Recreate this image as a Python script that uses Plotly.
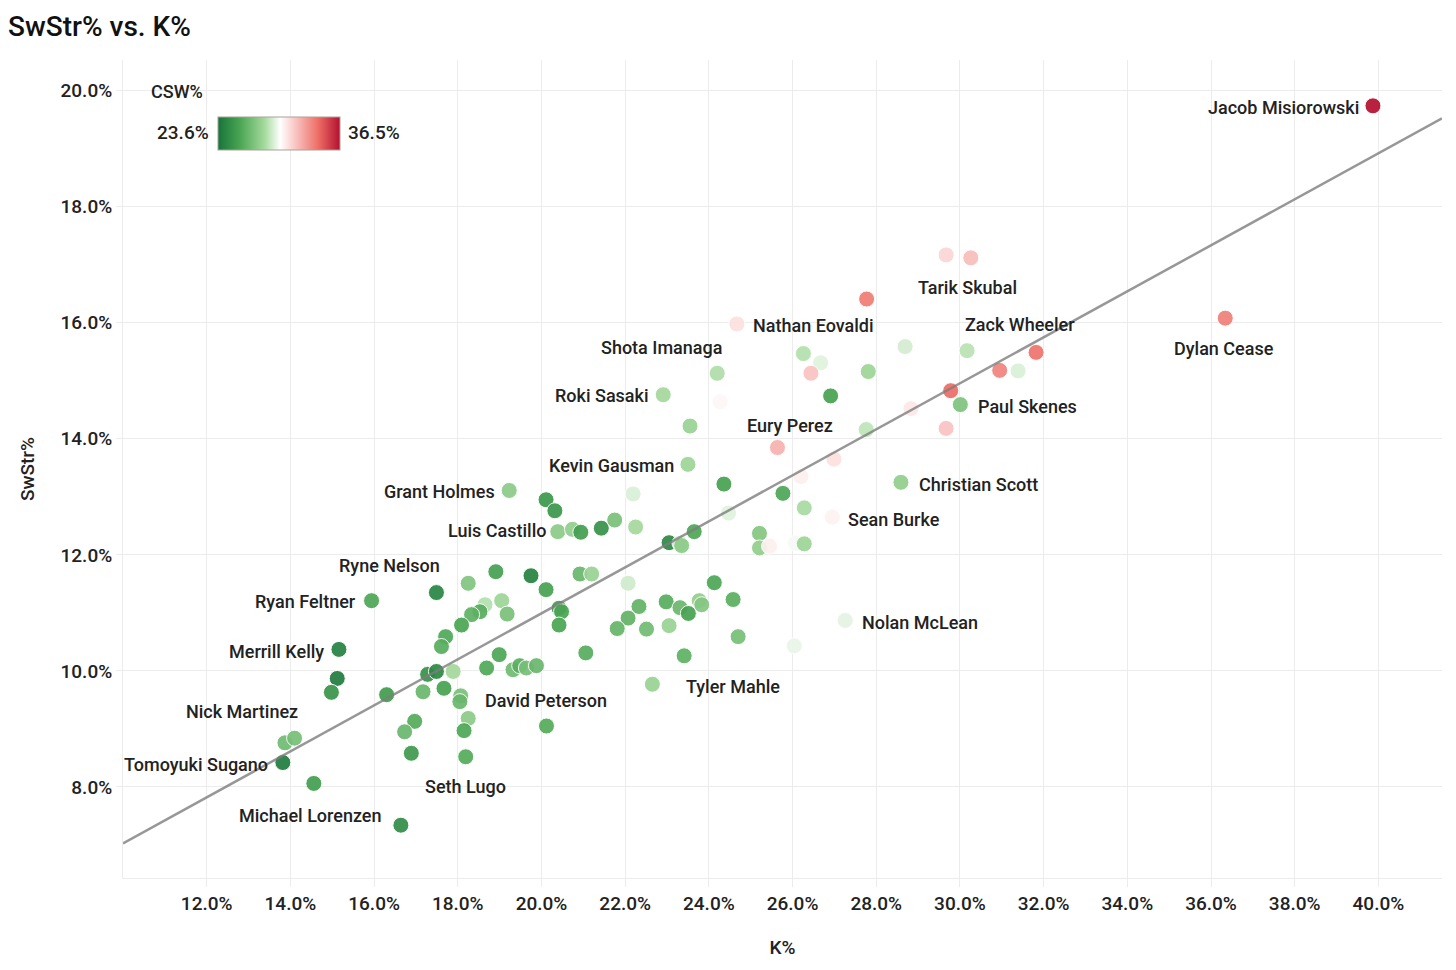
import numpy as np
import plotly.graph_objects as go

# ---------------- data ----------------
k_pct = [39.87, 36.34, 29.67, 30.26, 27.77, 24.67, 26.26, 26.67, 26.44, 27.81,
         28.69, 30.17, 31.82, 30.95, 31.39, 29.78, 30.01, 28.83, 29.67, 27.76,
         24.20, 24.27, 26.91, 22.91, 23.55, 25.64, 26.99, 26.20, 23.50, 24.36,
         22.19, 25.77, 28.59, 26.28, 24.47, 26.95, 19.23, 20.11, 20.32, 20.39,
         20.74, 20.94, 21.43, 21.75, 22.25, 23.05, 23.31, 23.35, 23.65, 25.21,
         25.21, 25.45, 26.07, 26.28, 24.13, 24.58, 22.33, 22.98, 23.31, 23.51,
         23.77, 23.83, 22.07, 22.07, 21.81, 22.51, 23.05, 24.70, 23.41, 22.65,
         27.26, 26.04, 21.06, 18.91, 19.75, 18.25, 17.49, 20.11, 20.92, 21.20,
         18.65, 19.05, 19.18, 18.53, 18.33, 20.42, 20.48, 18.09, 20.42, 17.71,
         17.61, 18.99, 18.69, 19.32, 19.48, 19.64, 19.88, 17.28, 17.49, 17.89,
         16.30, 17.17, 17.67, 18.07, 18.05, 20.12, 18.25, 16.97, 16.73, 18.15,
         16.89, 18.19, 16.64, 15.94, 15.16, 15.12, 14.98, 13.87, 14.10, 13.82,
         14.56]

swstr_pct = [19.74, 16.08, 17.17, 17.12, 16.41, 15.98, 15.47, 15.31, 15.13, 15.16,
             15.59, 15.52, 15.49, 15.18, 15.17, 14.83, 14.59, 14.52, 14.18, 14.16,
             15.13, 14.64, 14.74, 14.76, 14.22, 13.85, 13.65, 13.35, 13.56, 13.22,
             13.05, 13.06, 13.25, 12.81, 12.72, 12.65, 13.11, 12.95, 12.76, 12.40,
             12.44, 12.39, 12.46, 12.60, 12.48, 12.21, 12.20, 12.16, 12.40, 12.37,
             12.12, 12.15, 12.20, 12.19, 11.52, 11.23, 11.11, 11.19, 11.09, 10.99,
             11.21, 11.14, 11.51, 10.91, 10.73, 10.72, 10.78, 10.59, 10.26, 9.77,
             10.87, 10.43, 10.31, 11.71, 11.64, 11.51, 11.35, 11.40, 11.67, 11.67,
             11.14, 11.21, 10.98, 11.02, 10.97, 11.08, 11.02, 10.79, 10.79, 10.59,
             10.42, 10.28, 10.05, 10.02, 10.09, 10.05, 10.09, 9.94, 9.99, 9.99,
             9.59, 9.64, 9.70, 9.57, 9.47, 9.05, 9.18, 9.13, 8.95, 8.97,
             8.58, 8.52, 7.34, 11.21, 10.37, 9.87, 9.63, 8.76, 8.84, 8.42,
             8.06]

csw_pct = [36.5, 33.7, 31.3, 32.0, 33.8, 31.0, 28.8, 29.6, 31.8, 28.3,
           29.4, 28.9, 34.0, 33.6, 29.5, 34.2, 27.4, 30.8, 31.8, 29.0,
           28.7, 30.4, 25.8, 28.5, 28.2, 32.3, 31.0, 30.6, 28.3, 25.8,
           29.5, 26.0, 28.0, 28.6, 29.6, 30.5, 27.8, 25.3, 25.2, 27.8,
           28.0, 25.6, 25.0, 27.3, 28.5, 24.6, 29.2, 27.8, 26.0, 27.6,
           28.0, 30.6, 30.0, 28.3, 26.0, 26.4, 26.6, 26.3, 26.8, 25.8,
           28.0, 27.6, 29.3, 26.6, 26.7, 27.0, 28.2, 27.2, 26.5, 28.2,
           29.7, 29.8, 26.3, 25.7, 24.3, 27.5, 24.4, 25.8, 26.8, 28.2,
           28.8, 28.3, 27.3, 26.3, 26.5, 25.5, 25.9, 25.9, 25.9, 26.1,
           26.3, 26.0, 26.1, 27.0, 26.4, 27.2, 26.8, 25.0, 24.6, 28.5,
           25.5, 26.8, 25.8, 27.3, 26.8, 26.2, 27.8, 26.2, 26.8, 26.0,
           25.4, 26.2, 24.8, 26.0, 24.3, 24.0, 25.1, 27.0, 27.2, 24.0,
           25.6]

player = ["Jacob Misiorowski", "Dylan Cease", "", "Tarik Skubal", "", "Nathan Eovaldi", "", "", "", "",
          "", "", "Zack Wheeler", "", "", "", "Paul Skenes", "", "", "",
          "Shota Imanaga", "", "", "Roki Sasaki", "", "Eury Perez", "", "", "Kevin Gausman", "",
          "", "", "Christian Scott", "", "", "Sean Burke", "Grant Holmes", "", "", "Luis Castillo",
          "", "", "", "", "", "", "", "", "", "",
          "", "", "", "", "", "", "", "", "", "",
          "", "", "", "", "", "", "", "", "", "Tyler Mahle",
          "Nolan McLean", "", "", "", "", "", "Ryne Nelson", "", "", "",
          "", "", "", "", "", "", "", "", "", "",
          "", "", "", "", "", "", "", "", "", "",
          "", "", "", "", "", "David Peterson", "", "", "", "",
          "", "Seth Lugo", "Michael Lorenzen", "Ryan Feltner", "Merrill Kelly", "", "", "Nick Martinez", "", "Tomoyuki Sugano",
          ""]

x_ticks = [12, 14, 16, 18, 20, 22, 24, 26, 28, 30, 32, 34, 36, 38, 40]
y_ticks = [8, 10, 12, 14, 16, 18, 20]
csw_min, csw_max = 23.6, 36.5

# ---------------- style ----------------
FONT = "Roboto, Liberation Sans, sans-serif"
TXT = "#222222"
GRID = "#ececec"
colorscale = [[0.0, "#17743a"], [0.18, "#4aa553"], [0.38, "#a4d99c"],
              [0.51, "#ffffff"], [0.64, "#f9c2c0"], [0.82, "#ee6e66"],
              [1.0, "#b3102f"]]

# label placement (anchor, x shift px, y shift px)
label_pos = {
    "Jacob Misiorowski": ("right", -12, -2),
    "Dylan Cease": ("center", -1, -30),
    "Tarik Skubal": ("center", -3, -30),
    "Zack Wheeler": ("center", -16, 28),
    "Nathan Eovaldi": ("left", 14, -2),
    "Shota Imanaga": ("center", -56, 26),
    "Roki Sasaki": ("right", -12, -1),
    "Eury Perez": ("center", 13, 22),
    "Kevin Gausman": ("right", -12, -1),
    "Grant Holmes": ("right", -12, -1),
    "Luis Castillo": ("right", -10, 1),
    "Christian Scott": ("left", 16, -2),
    "Sean Burke": ("left", 14, -2),
    "Ryne Nelson": ("center", -47, 27),
    "Ryan Feltner": ("right", -14, -1),
    "Merrill Kelly": ("right", -13, -2),
    "Nick Martinez": ("center", -43, 31),
    "Tomoyuki Sugano": ("right", -13, -2),
    "Michael Lorenzen": ("right", -17, 10),
    "Seth Lugo": ("center", 0, -30),
    "David Peterson": ("center", 0, 26),
    "Tyler Mahle": ("left", 32, -2),
    "Nolan McLean": ("left", 15, -2),
    "Paul Skenes": ("left", 16, -2),
}

x_range = [10.0, 41.52]
y_range = [6.43, 20.53]

fig = go.Figure()

fig.add_trace(go.Scatter(
    x=k_pct, y=swstr_pct, mode="markers",
    marker=dict(
        size=16, color=csw_pct, cmin=csw_min, cmax=csw_max,
        colorscale=colorscale, opacity=0.92,
        line=dict(width=1, color="white"),
        colorbar=dict(
            orientation="h", x=0.072, xanchor="left", y=0.910, yanchor="middle",
            len=122, lenmode="pixels", thickness=33, thicknessmode="pixels",
            outlinewidth=1, outlinecolor="#a9a399", showticklabels=False,
            ticks="", xpad=0, ypad=0,
        ),
    ),
    text=player, hoverinfo="x+y+text", showlegend=False,
))

# least-squares trend line
slope, intercept = np.polyfit(np.array(k_pct), np.array(swstr_pct), 1)
fx = np.array(x_range)
fig.add_trace(go.Scatter(
    x=fx, y=intercept + slope * fx, mode="lines",
    line=dict(color="rgba(125,125,125,0.8)", width=2.5),
    hoverinfo="skip", showlegend=False,
))

LABEL_FONT = dict(family=FONT, size=18, color=TXT, weight=500)
annotations = []
for xv, yv, name in zip(k_pct, swstr_pct, player):
    if not name:
        continue
    anc, dx, dy = label_pos[name]
    annotations.append(dict(
        x=xv, y=yv, xref="x", yref="y", text=name, showarrow=False,
        xanchor=anc, yanchor="middle", xshift=dx, yshift=dy, font=LABEL_FONT,
    ))

# colour legend texts
annotations += [
    dict(x=0.041, y=0.962, xref="paper", yref="paper", text="CSW%", showarrow=False,
         xanchor="center", yanchor="middle", font=dict(family=FONT, size=18, color=TXT, weight=500)),
    dict(x=0.0667, y=0.911, xref="paper", yref="paper", text=f"{csw_min:.1f}%", showarrow=False,
         xanchor="right", yanchor="middle", font=dict(family=FONT, size=19, color=TXT, weight=500)),
    dict(x=0.169, y=0.911, xref="paper", yref="paper", text=f"{csw_max:.1f}%", showarrow=False,
         xanchor="left", yanchor="middle", font=dict(family=FONT, size=19, color=TXT, weight=500)),
]

TICK_FONT = dict(family=FONT, size=19, color=TXT, weight=500)
fig.update_layout(
    width=1448, height=962,
    margin=dict(l=115, r=14, t=52, b=92),
    paper_bgcolor="white", plot_bgcolor="white",
    font=dict(family=FONT, color=TXT, size=18),
    title=dict(text="SwStr% vs. K%", x=0.0, xref="container", xanchor="left",
               y=0.981, yref="container", yanchor="middle",
               font=dict(family=FONT, size=28, color="#111111", weight=500)),
    annotations=annotations,
    xaxis=dict(
        range=x_range, tickvals=x_ticks, ticktext=[f"{v:.1f}%" for v in x_ticks],
        showgrid=True, gridcolor=GRID, gridwidth=1, zeroline=False,
        showline=True, linecolor=GRID, linewidth=1,
        ticks="outside", ticklen=8, tickcolor=GRID,
        tickfont=TICK_FONT,
        title=dict(text="K%", standoff=26, font=dict(family=FONT, size=19, color=TXT, weight=500)),
    ),
    yaxis=dict(
        range=y_range, tickvals=y_ticks, ticktext=[f"{v:.1f}%" for v in y_ticks],
        showgrid=True, gridcolor=GRID, gridwidth=1, zeroline=False,
        showline=True, linecolor=GRID, linewidth=1,
        ticks="outside", ticklen=6, tickcolor=GRID,
        tickfont=TICK_FONT,
        title=dict(text="SwStr%", standoff=20, font=dict(family=FONT, size=19, color=TXT, weight=500)),
    ),
)

fig.write_html("out.html")
